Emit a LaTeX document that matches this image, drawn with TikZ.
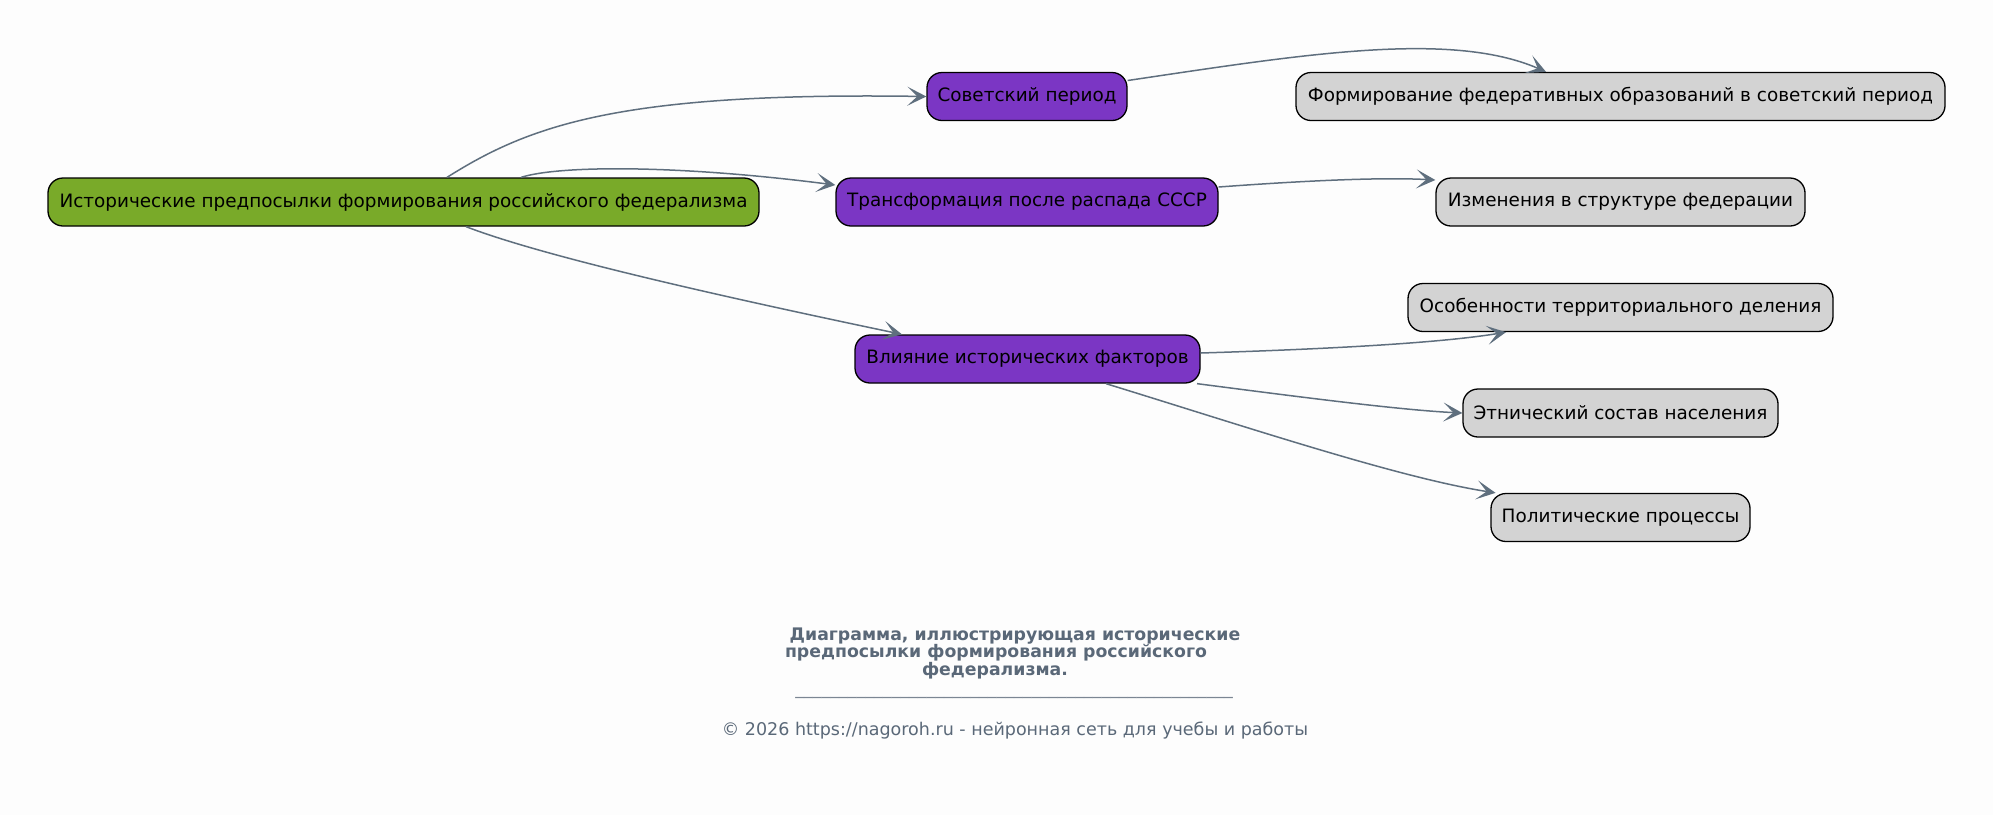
\documentclass[tikz,border=0pt]{standalone}
\usepackage{fontspec}
\setmainfont{DejaVu Sans}
\usetikzlibrary{arrows.meta}
\definecolor{bgc}{HTML}{FDFDFD}
\definecolor{rootc}{HTML}{79AA29}
\definecolor{midc}{HTML}{7B36C4}
\definecolor{leafc}{HTML}{D3D3D3}
\definecolor{edgec}{HTML}{5F6F7E}
\definecolor{capc}{HTML}{5A6878}
\tikzset{
  box/.style={draw=black, line width=1.3pt, rounded corners=15pt, minimum height=48pt, inner sep=0pt, text=black, font=\fontsize{18.4}{22}\selectfont},
  rootbox/.style={box, fill=rootc},
  midbox/.style={box, fill=midc},
  leafbox/.style={box, fill=leafc},
  conn/.style={draw=edgec, line width=1.5pt, -{Stealth[length=19pt,width=19pt,inset=10pt]}},
  captxt/.style={text=capc, font=\fontsize{17.3}{18}\selectfont\bfseries, inner sep=0pt},
  copytxt/.style={text=capc, font=\fontsize{17.5}{20}\selectfont, inner sep=0pt}
}
\begin{document}
\begin{tikzpicture}[x=1pt,y=-1pt]
\fill[bgc] (0,0) rectangle (1993,815);
\useasboundingbox (0,0) rectangle (1993,815);

\node[rootbox, minimum width=711pt] (root) at (403.5,202) {Исторические предпосылки формирования российского федерализма};
\node[midbox, minimum width=200pt] (sov) at (1027,96.5) {Советский период};
\node[midbox, minimum width=382pt] (trans) at (1027,202) {Трансформация после распада СССР};
\node[midbox, minimum width=345pt] (infl) at (1027.5,359) {Влияние исторических факторов};

\node[leafbox, minimum width=649pt] (f1) at (1620.5,96.5) {Формирование федеративных образований в советский период};
\node[leafbox, minimum width=369pt] (f2) at (1620.5,202) {Изменения в структуре федерации};
\node[leafbox, minimum width=425pt] (f3) at (1620.5,307.5) {Особенности территориального деления};
\node[leafbox, minimum width=315pt] (f4) at (1620.5,413) {Этнический состав населения};
\node[leafbox, minimum width=259pt] (f5) at (1620.5,517.5) {Политические процессы};

\draw[conn] ([xshift=43.5pt]root.north) .. controls (530,125) and (620,92) .. (sov.west);
\draw[conn] ([xshift=117.5pt]root.north) .. controls (560,165) and (680,165) .. ([yshift=17pt]trans.west);
\draw[conn] ([xshift=62.5pt]root.south) .. controls (540,255) and (700,292) .. ([xshift=-125.5pt]infl.north);

\draw[conn] ([yshift=16pt]sov.east) .. controls (1300,55) and (1450,30) .. ([xshift=-74.5pt]f1.north);
\draw[conn] ([yshift=15pt]trans.east) .. controls (1300,181) and (1380,177) .. ([yshift=22pt]f2.west);
\draw[conn] ([yshift=6pt]infl.east) .. controls (1330,349) and (1440,343) .. ([xshift=-114.5pt]f3.south);
\draw[conn] ([xshift=169.5pt]infl.south) .. controls (1300,397) and (1400,410) .. (f4.west);
\draw[conn] ([xshift=78.5pt]infl.south) .. controls (1250,428) and (1400,478) .. ([xshift=-125pt]f5.north);

\node[captxt] (cap1) at (1015,636) {Диаграмма, иллюстрирующая исторические};
\node[captxt] (cap2) at (996,653) {предпосылки формирования российского};
\node[captxt] (cap3) at (995,671) {федерализма.};
\node[copytxt, text=capc!80] (rule) at (1014,697) {\_\_\_\_\_\_\_\_\_\_\_\_\_\_\_\_\_\_\_\_\_\_\_\_\_\_\_\_\_\_\_\_\_\_\_\_\_\_\_\_\_\_\_\_\_\_\_\_\_\_};
\node[copytxt] (copy) at (1015,731) {© 2026 https://nagoroh.ru - нейронная сеть для учебы и работы};
\end{tikzpicture}
\end{document}
